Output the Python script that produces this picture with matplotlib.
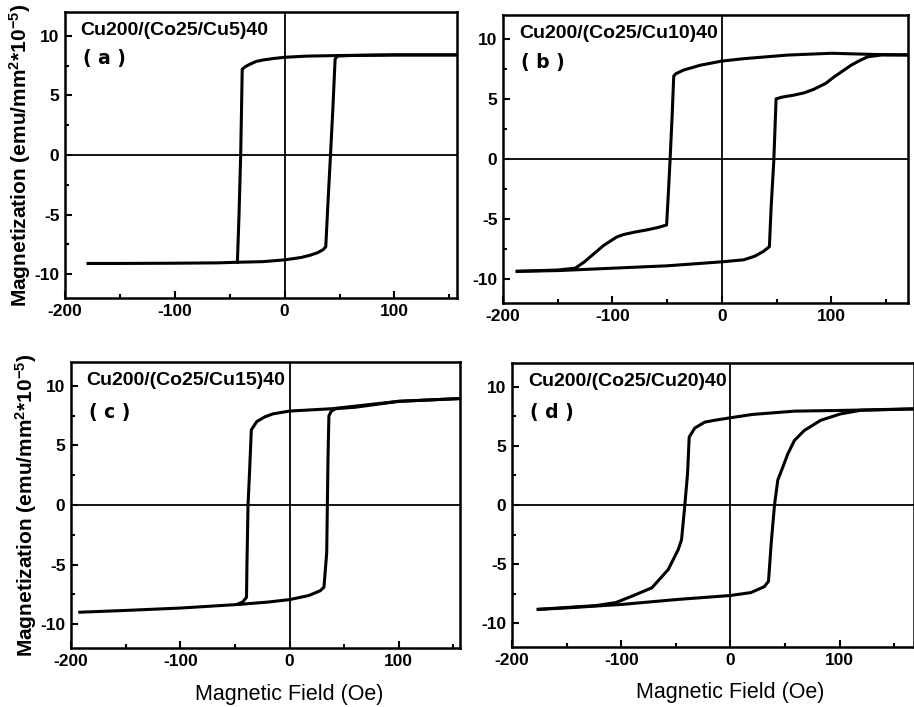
import matplotlib
matplotlib.use('Agg')
import matplotlib.pyplot as plt
from matplotlib.ticker import MultipleLocator
import matplotlib.transforms as mtransforms

plt.rcParams['font.family'] = ['Liberation Sans', 'DejaVu Sans']
plt.rcParams['axes.unicode_minus'] = False
plt.rcParams['mathtext.fontset'] = 'custom'
plt.rcParams['mathtext.rm'] = 'Liberation Sans'
plt.rcParams['mathtext.bf'] = 'Liberation Sans:bold'
plt.rcParams['mathtext.default'] = 'bf'

# sample names / panel letters
names = ['Cu200/(Co25/Cu5)40', 'Cu200/(Co25/Cu10)40', 'Cu200/(Co25/Cu15)40', 'Cu200/(Co25/Cu20)40']
letters = ['( a )', '( b )', '( c )', '( d )']
xlims = [(-200, 157), (-200, 170), (-200, 156), (-200, 168)]

# (a) descending branch (upper) and ascending branch (lower)
a_up_x = [157, 100, 50, 20, 0, -10, -20, -26, -32, -36, -38.6, -39.3, -40, -41.5, -43]
a_up_y = [8.4, 8.4, 8.35, 8.3, 8.2, 8.1, 7.97, 7.85, 7.6, 7.4, 7.2, 3.5, 0, -5, -9.0]
a_lo_x = [-179, -150, -100, -60, -43, -20, 0, 15, 23.6, 30, 35, 37.5, 39.5, 41.8, 44, 46, 48, 60, 100, 157]
a_lo_y = [-9.1, -9.1, -9.08, -9.05, -9.0, -8.95, -8.8, -8.6, -8.4, -8.2, -7.95, -7.7, -4, 0, 4, 8.05, 8.3, 8.35, 8.4, 8.4]

# (b)
b_up_x = [170, 140, 100, 60, 20, 0, -20, -35, -42, -44, -45.5, -47.4, -49, -50.5, -58, -68, -80,
          -90, -96, -102, -108, -117, -126, -134, -150, -187]
b_up_y = [8.66, 8.7, 8.8, 8.65, 8.35, 8.15, 7.8, 7.4, 7.1, 6.9, 3.5, -0.2, -3.0, -5.5, -5.7, -5.9, -6.1,
          -6.3, -6.5, -6.85, -7.2, -7.9, -8.6, -9.1, -9.25, -9.36]
b_lo_x = [-187, -150, -100, -50, 0, 20, 30, 38, 43.4, 45, 47.4, 48.5, 49.5, 55, 65, 75, 84, 95,
          102, 110, 118, 126, 133, 146, 170]
b_lo_y = [-9.36, -9.3, -9.1, -8.9, -8.57, -8.4, -8.1, -7.7, -7.3, -4, -0.2, 2.5, 5.0, 5.15, 5.3, 5.5, 5.8, 6.3,
          6.8, 7.3, 7.8, 8.2, 8.5, 8.66, 8.66]

# (c)
c_up_x = [156, 100, 39, 0, -15, -22.5, -30, -35, -36.5, -38, -39, -39.4, -43, -47]
c_up_y = [8.93, 8.7, 8.08, 7.88, 7.65, 7.4, 7.0, 6.3, 3, 0, -5, -7.75, -8.15, -8.3]
c_lo_x = [-192, -150, -100, -47, -20, 0, 17.6, 28, 31.5, 34, 34.6, 35.2, 36, 38, 42, 60, 100, 156]
c_lo_y = [-9.0, -8.85, -8.65, -8.35, -8.15, -7.94, -7.6, -7.2, -6.9, -4, 0, 4, 7.47, 7.85, 8.08, 8.2, 8.7, 8.93]

# (d)
d_up_x = [168, 101, 58.8, 20, 0, -15, -23.6, -32.7, -37.8, -39.3, -41.8, -44.8, -47.9, -57, -72, -90,
          -105, -123, -176]
d_up_y = [8.12, 7.99, 7.93, 7.65, 7.37, 7.15, 7.0, 6.5, 5.74, 2.66, 0, -2.94, -3.78, -5.46, -7.0, -7.7,
          -8.25, -8.5, -8.82]
d_lo_x = [-176, -150, -99, -48, 0, 18.8, 31, 34.8, 37.3, 40.3, 43.3, 47.9, 52.4, 58.5, 67.6, 82.7,
          100.9, 119, 168]
d_lo_y = [-8.82, -8.7, -8.4, -7.98, -7.65, -7.4, -6.9, -6.45, -3.2, 0, 2.1, 3.2, 4.3, 5.45, 6.3, 7.16,
          7.7, 8.0, 8.12]

loops = [(a_up_x, a_up_y, a_lo_x, a_lo_y),
         (b_up_x, b_up_y, b_lo_x, b_lo_y),
         (c_up_x, c_up_y, c_lo_x, c_lo_y),
         (d_up_x, d_up_y, d_lo_x, d_lo_y)]

# axes rectangles [left, bottom, width, height] in figure fraction
rects = [[0.0711, 0.5785, 0.4289, 0.4045],
         [0.5503, 0.5714, 0.4431, 0.4076],
         [0.0777, 0.0835, 0.4256, 0.4045],
         [0.5602, 0.0849, 0.4398, 0.4017]]
letter_y = [0.836, 0.833, 0.825, 0.825]

fig = plt.figure(figsize=(9.14, 7.07), dpi=100)

for i in range(4):
    ax = fig.add_axes(rects[i])
    up_x, up_y, lo_x, lo_y = loops[i]
    ax.axhline(0, color='black', lw=1.3)
    ax.axvline(0, color='black', lw=1.3)
    ax.plot(up_x, up_y, color='black', lw=2.2, solid_joinstyle='round')
    ax.plot(lo_x, lo_y, color='black', lw=2.2, solid_joinstyle='round')
    ax.set_xlim(xlims[i])
    ax.set_ylim(-12, 12)
    ax.xaxis.set_major_locator(MultipleLocator(100))
    ax.xaxis.set_minor_locator(MultipleLocator(50))
    ax.yaxis.set_major_locator(MultipleLocator(5))
    ax.yaxis.set_minor_locator(MultipleLocator(2.5))
    ax.tick_params(which='both', direction='in', top=False, right=False, width=1.5)
    ax.tick_params(which='major', length=5, labelsize=12.5, pad=4)
    ax.tick_params(which='minor', length=3)
    for lab in ax.get_xticklabels() + ax.get_yticklabels():
        lab.set_fontweight('bold')
    for sp in ax.spines.values():
        sp.set_linewidth(1.8)
    ax.text(0.04, 0.965, names[i], transform=ax.transAxes, fontsize=14, fontweight='bold',
            ha='left', va='top')
    ax.text(0.045, letter_y[i], letters[i], transform=ax.transAxes, fontsize=13.5,
            ha='left', va='center', family=['DejaVu Sans'], fontweight='semibold')
    if i % 2 == 0:
        ax.set_ylabel(r'Magnetization (emu/mm$^2$*10$^{-5}$)', fontsize=15, fontweight='bold', labelpad=1)
    if i >= 2:
        ax.set_xlabel('Magnetic Field (Oe)', fontsize=15.5)
        trans = mtransforms.blended_transform_factory(ax.transData, ax.transAxes)
        ax.xaxis.set_label_coords(0, -0.125, transform=trans)

plt.savefig('out.png', dpi=100)
